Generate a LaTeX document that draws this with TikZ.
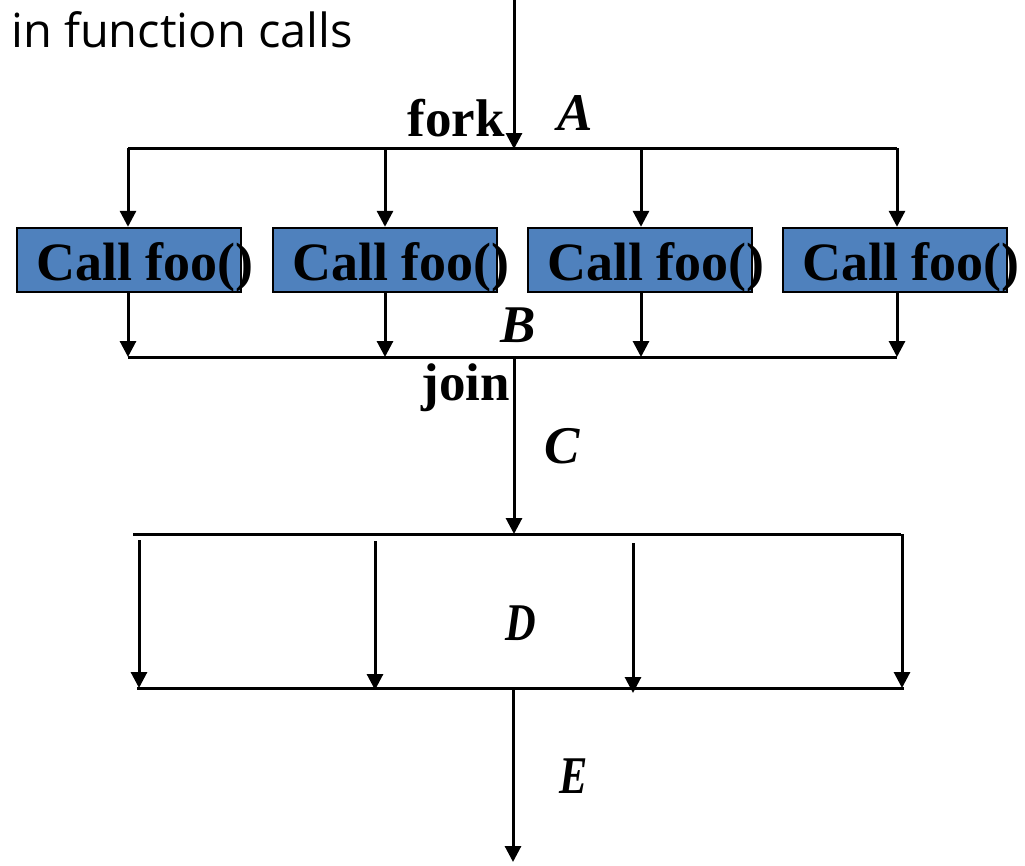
\documentclass[tikz,border=0pt]{standalone}
\usepackage{fontspec}
\setmainfont{Liberation Serif}
\newfontfamily\sanstext{Open Sans}
\usetikzlibrary{arrows.meta}
\definecolor{boxblue}{HTML}{4F81BD}
\newcommand{\lblfont}{\fontsize{53}{53}\selectfont\bfseries\itshape}
\begin{document}
\begin{tikzpicture}[x=1pt,y=-1pt,
  line/.style={line width=3pt},
  arr/.style={line width=3pt,-{Triangle[length=16pt,width=16pt]}},
  callbox/.style={draw=black,line width=2.4pt,fill=boxblue,minimum width=224pt,minimum height=64pt,inner sep=0pt},
  calltext/.style={font=\fontsize{54}{54}\selectfont\bfseries,anchor=base west,inner sep=0pt},
  lbl/.style={font=\lblfont,anchor=base,inner sep=0pt},
  word/.style={font=\fontsize{53}{53}\selectfont\bfseries,anchor=base,inner sep=0pt}]
\useasboundingbox (0,0) rectangle (1025,865);

% title
\node[font=\sanstext\fontsize{47}{47}\selectfont,anchor=base west,inner sep=0pt] (title) at (11,47) {in function calls};

% boxes
\node[callbox] (b1) at (129,260) {};
\node[callbox] (b2) at (385,260) {};
\node[callbox] (b3) at (640,260) {};
\node[callbox] (b4) at (895,260) {};
\node[calltext] (t1) at (36,280) {Call foo()};
\node[calltext] (t2) at (292,280) {Call foo()};
\node[calltext] (t3) at (547,280) {Call foo()};
\node[calltext] (t4) at (802,280) {Call foo()};

% fork
\coordinate (top) at (514,0);
\coordinate (fork) at (514,149);
\coordinate (fL) at (128,148);
\coordinate (f2) at (385,148);
\coordinate (f3) at (641,148);
\coordinate (fR) at (897,148);
\draw[arr] (top) -- (fork);
\draw[line] (fL) -- (fR);
\draw[arr] (fL) -- (fL |- b1.north);
\draw[arr] (f2) -- (f2 |- b2.north);
\draw[arr] (f3) -- (f3 |- b3.north);
\draw[arr] (fR) -- (fR |- b4.north);

% join
\coordinate (jL) at (128,357);
\coordinate (j2) at (385,357);
\coordinate (j3) at (641,357);
\coordinate (jR) at (897,357);
\coordinate (join) at (514,357);
\draw[line] (jL) -- (jR);
\draw[arr] (jL |- b1.south) -- (jL);
\draw[arr] (j2 |- b2.south) -- (j2);
\draw[arr] (j3 |- b3.south) -- (j3);
\draw[arr] (jR |- b4.south) -- (jR);

% C
\coordinate (cEnd) at (514,534);
\draw[arr] (join) -- (cEnd);

% D
\coordinate (dL) at (133,534);
\coordinate (dR) at (901,534);
\draw[line] (dL) -- (dR);
\coordinate (d1s) at (139,540);
\coordinate (d1e) at (139,688);
\coordinate (d2s) at (375,541);
\coordinate (d2e) at (375,690);
\coordinate (d3s) at (633,543);
\coordinate (d3e) at (633,693);
\coordinate (d4s) at (902,534);
\coordinate (d4e) at (902,688);
\draw[arr] (d1s) -- (d1e);
\draw[arr] (d2s) -- (d2e);
\draw[arr] (d3s) -- (d3e);
\draw[arr] (d4s) -- (d4e);
\coordinate (eL) at (137,688);
\coordinate (eR) at (904,688);
\draw[line] (eL) -- (eR);

% E
\coordinate (eS) at (513,688);
\coordinate (eEnd) at (513,862);
\draw[arr] (eS) -- (eEnd);

% labels
\node[word] (forklbl) at (456,136) {fork};
\node[word] (joinlbl) at (466,400) {join};
\node[lbl] (A) at (575,130) {A};
\node[lbl] (B) at (518,342) {B};
\node[lbl] (C) at (562,463) {C};
\node[anchor=base,inner sep=0pt] (D) at (521,640) {\scalebox{0.8}[1]{\lblfont D}};
\node[anchor=base,inner sep=0pt] (E) at (574,793) {\scalebox{0.8}[1]{\lblfont E}};
\end{tikzpicture}
\end{document}
